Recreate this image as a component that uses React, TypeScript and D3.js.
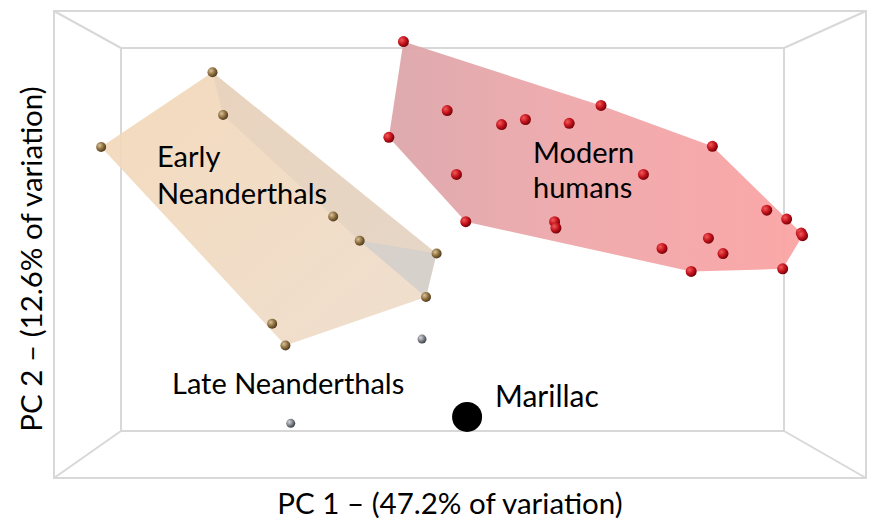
import React from 'react';
import * as d3 from 'd3';

// PCA scores (PC1, PC2)
const earlyPC1 = [-0.181, -0.173, -0.265, -0.090, -0.070, -0.012, -0.020, -0.136, -0.126];
const earlyPC2 = [0.131, 0.0975, 0.0725, 0.018, -0.001, -0.011, -0.045, -0.066, -0.083];

const modernPC1 = [-0.037, -0.004, -0.048, 0.037, 0.055, 0.088, 0.112, 0.196, 0.003, 0.144, 0.010,
  0.077, 0.078, 0.237, 0.252, 0.263, 0.264, 0.193, 0.158, 0.204, 0.180, 0.249];
const modernPC2 = [0.155, 0.101, 0.080, 0.090, 0.094, 0.091, 0.105, 0.073, 0.051, 0.051, 0.014,
  0.014, 0.009, 0.023, 0.016, 0.005, 0.003, 0.001, -0.007, -0.011, -0.025, -0.023];

const latePC1 = [-0.023, -0.122];
const latePC2 = [-0.078, -0.144];

const marillacPC1 = [0.011];
const marillacPC2 = [-0.139];

const xTitle = 'PC 1 – (47.2% of variation)';
const yTitle = 'PC 2 – (12.6% of variation)';

const W = 869;
const H = 521;
const font = 'Lato, "Open Sans", sans-serif';

const x = d3.scaleLinear().domain([-0.25, 0.25]).range([121, 784]);
const y = d3.scaleLinear().domain([-0.15, 0.15]).range([431, 48]);

const toPts = (a: number[], b: number[]): [number, number][] => a.map((v, i) => [x(v), y(b[i])]);

const App = () => {
  const early = toPts(earlyPC1, earlyPC2);
  const modern = toPts(modernPC1, modernPC2);
  const late = toPts(latePC1, latePC2);
  const marillac = toPts(marillacPC1, marillacPC2);

  const earlyHull = d3.polygonHull(early) || [];
  const modernHull = d3.polygonHull(modern) || [];
  const line = d3.line();

  // back face of the 3D box and the outer frame
  const [ix0, ix1] = x.range();
  const [iy1, iy0] = y.range();
  const ox0 = 54, ox1 = 866, oy0 = 11, oy1 = 478;

  // inner facet of the early neanderthal hull (for the 3D look)
  const facet = [0, 5, 6, 4, 3, 1].map(i => early[i]) as [number, number][];
  const side = [5, 6, 4].map(i => early[i]) as [number, number][];

  return (
    <svg width={W} height={H} style={{ position: 'absolute', left: 0, top: 0, background: '#fff' }}>
      <defs>
        <radialGradient id="gRed" cx="35%" cy="35%" r="70%">
          <stop offset="0%" stopColor="#f25a5a" />
          <stop offset="55%" stopColor="#c3121c" />
          <stop offset="100%" stopColor="#6e0006" />
        </radialGradient>
        <radialGradient id="gTan" cx="35%" cy="35%" r="70%">
          <stop offset="0%" stopColor="#d9c39a" />
          <stop offset="55%" stopColor="#8c6d3e" />
          <stop offset="100%" stopColor="#4a361a" />
        </radialGradient>
        <radialGradient id="gGray" cx="35%" cy="35%" r="70%">
          <stop offset="0%" stopColor="#d6d8de" />
          <stop offset="55%" stopColor="#7c7f87" />
          <stop offset="100%" stopColor="#3a3c42" />
        </radialGradient>
        <linearGradient id="gPink" x1="0" x2="1" y1="0" y2="0">
          <stop offset="0%" stopColor="#dca6aa" />
          <stop offset="40%" stopColor="#eda8ab" />
          <stop offset="100%" stopColor="#fba3a3" />
        </linearGradient>
        <linearGradient id="gBeige" x1="0" x2="1" y1="0" y2="1">
          <stop offset="0%" stopColor="#f2d7b7" />
          <stop offset="100%" stopColor="#eedccb" />
        </linearGradient>
      </defs>

      <g stroke="#d8d8d8" strokeWidth={2} fill="none">
        <rect x={ox0} y={oy0} width={ox1 - ox0} height={oy1 - oy0} />
        <rect x={ix0} y={iy0} width={ix1 - ix0} height={iy1 - iy0} />
        <line x1={ox0} y1={oy0} x2={ix0} y2={iy0} />
        <line x1={ox1} y1={oy0} x2={ix1} y2={iy0} />
        <line x1={ox0} y1={oy1} x2={ix0} y2={iy1} />
        <line x1={ox1} y1={oy1} x2={ix1} y2={iy1} />
      </g>

      <path d={line(earlyHull) + 'Z'} fill="url(#gBeige)" opacity={0.92} />
      <path d={line(facet) + 'Z'} fill="#cfc5bb" opacity={0.3} />
      <path d={line(side) + 'Z'} fill="#c8ccd2" opacity={0.5} />
      <path d={line(modernHull) + 'Z'} fill="url(#gPink)" opacity={0.95} />

      {early.map((p, i) => <circle key={'e' + i} cx={p[0]} cy={p[1]} r={5} fill="url(#gTan)" />)}
      {modern.map((p, i) => <circle key={'m' + i} cx={p[0]} cy={p[1]} r={5.5} fill="url(#gRed)" />)}
      {late.map((p, i) => <circle key={'l' + i} cx={p[0]} cy={p[1]} r={4.5} fill="url(#gGray)" />)}
      {marillac.map((p, i) => <circle key={'k' + i} cx={p[0]} cy={p[1]} r={15} fill="#000" />)}

      <g fontFamily={font} fill="#000">
        <text x={157} y={167} fontSize={29}>Early</text>
        <text x={157} y={204} fontSize={29}>Neanderthals</text>
        <text x={533} y={163} fontSize={29}>Modern</text>
        <text x={533} y={198} fontSize={29}>humans</text>
        <text x={172} y={394} fontSize={29}>Late Neanderthals</text>
        <text x={495} y={407} fontSize={30}>Marillac</text>
        <text x={450} y={514} fontSize={29.5} textAnchor="middle">{xTitle}</text>
        <text transform="translate(42,259) rotate(-90)" fontSize={29.5} textAnchor="middle">{yTitle}</text>
      </g>
    </svg>
  );
};

export default App;
